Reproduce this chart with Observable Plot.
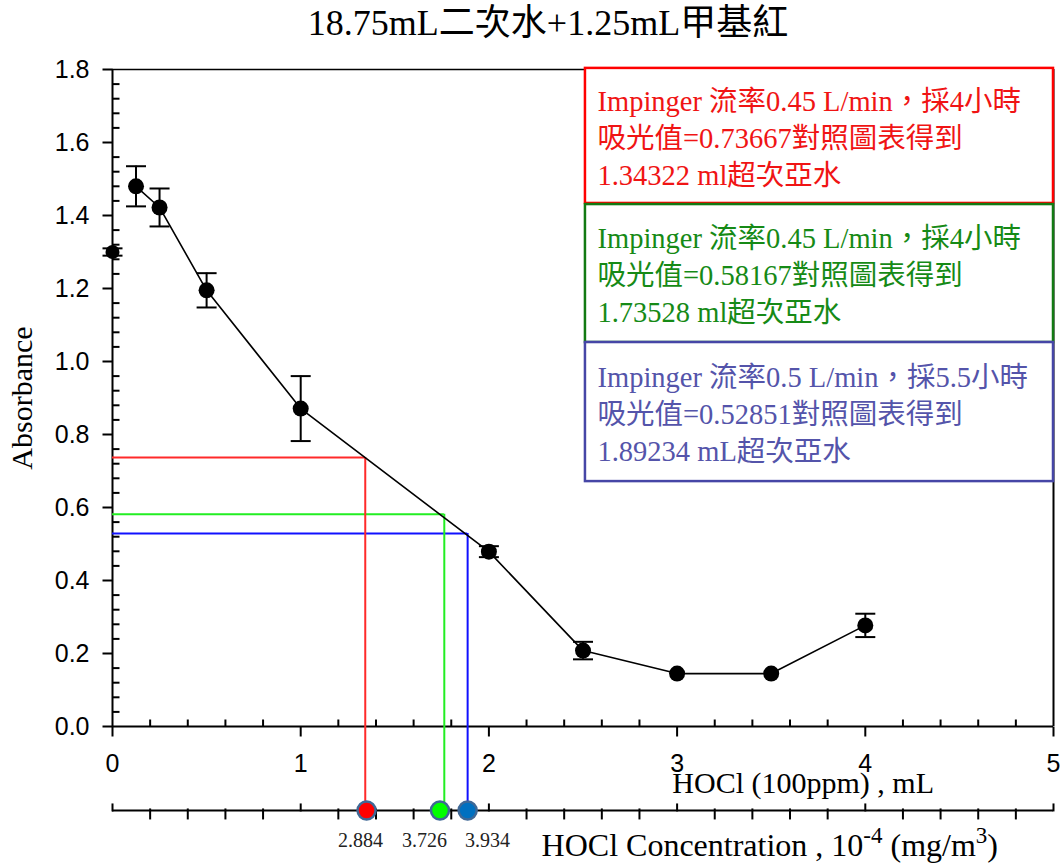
<!DOCTYPE html>
<html>
<head>
<meta charset="utf-8">
<script src="https://cdn.jsdelivr.net/npm/d3@7"></script>
<script src="https://cdn.jsdelivr.net/npm/@observablehq/plot@0.6"></script>
<style>
  body { margin: 0; background: #fff; }
  #title {
    width: 1060px; height: 46px; box-sizing: border-box; padding-left: 36px;
    text-align: center; line-height: 46px; color: #000;
    font-family: "Liberation Serif", "Noto Sans CJK TC", serif; font-size: 36px;
  }
</style>
</head>
<body>
<div id="title"></div>
<div id="chart"></div>
<script>
// ---------- data ----------
const titleText = "18.75mL二次水+1.25mL甲基紅";
const doseML     = [0, 0.125, 0.25, 0.5, 1, 2, 2.5, 3, 3.5, 4];
const absorbance = [1.30, 1.48, 1.422, 1.195, 0.871, 0.479, 0.208, 0.145, 0.145, 0.277];
const absErr     = [0.01, 0.055, 0.052, 0.047, 0.089, 0.015, 0.024, 0, 0, 0.032];

const xTickValues = [0, 1, 2, 3, 4, 5];
const yTickValues = [0, 0.2, 0.4, 0.6, 0.8, 1.0, 1.2, 1.4, 1.6, 1.8];
const yTickLabels = ["0.0", "0.2", "0.4", "0.6", "0.8", "1.0", "1.2", "1.4", "1.6", "1.8"];

const sampleAbs   = [0.73667, 0.58167, 0.52851];   // horizontal guide levels
const sampleML    = [1.343, 1.763, 1.887];         // vertical guide positions (mL)
const sampleDotML = [1.35, 1.74, 1.887];           // markers on concentration axis
const sampleConc  = ["2.884", "3.726", "3.934"];   // concentration labels

const annRed   = ["Impinger 流率0.45 L/min，採4小時", "吸光值=0.73667對照圖表得到", "1.34322 ml超次亞水"];
const annGreen = ["Impinger 流率0.45 L/min，採4小時", "吸光值=0.58167對照圖表得到", "1.73528 ml超次亞水"];
const annBlue  = ["Impinger 流率0.5 L/min，採5.5小時", "吸光值=0.52851對照圖表得到", "1.89234 mL超次亞水"];

const yLabel = "Absorbance";
const xLabel = "HOCl (100ppm) , mL";
const x2LabelParts = [["HOCl Concentration , 10", false], ["-4", true], [" (mg/m", false], ["3", true], [")", false]];

// ---------- build ----------
document.getElementById("title").textContent = titleText;

const pts = doseML.map((x, i) => ({x, y: absorbance[i], e: absErr[i]}));
const guides = sampleAbs.map((a, i) => ({abs: a, ml: sampleML[i], dot: sampleDotML[i], conc: sampleConc[i]}));
const x2Label = x2LabelParts.map(d => d[0]).join("");

const minorX = d3.range(0, 5.0001, 0.2).map(v => +v.toFixed(2)).filter(v => Math.abs(v - Math.round(v)) > 1e-6);
const minorY = d3.range(0, 1.8001, 0.04).map(v => +v.toFixed(2)).filter(v => Math.abs(v / 0.2 - Math.round(v / 0.2)) > 1e-6);

const seg = (x1, y1, x2, y2) => ({draw(ctx) { ctx.moveTo(x1, y1); ctx.lineTo(x2, y2); }});
const tickDownMajor = seg(0, 0, 0, 10);
const tickUpMinor = seg(0, 0, 0, -7);
const tickLeftMajor = seg(0, 0, -10, 0);
const tickRightMinor = seg(0, 0, 7, 0);
const tick2Up = seg(0, 1, 0, -7);
const tick2Down = seg(0, -2, 0, 9);
const capSym = seg(-10, 0, 10, 0);

const LOWER_Y = -0.230;   // concentration axis level (below the plot)
const serif = "Liberation Serif, Noto Sans CJK TC, serif";
const sans = "Liberation Sans, Arial, sans-serif";
const tickStyle = {stroke: "black", fill: "none", strokeWidth: 2};

const guideColors = ["#ff2a2a", "#22ee22", "#1010ff"];
const dotFills = ["#ff0000", "#00ff00", "#0070c0"];
const concLabelX = [1.318, 1.658, 1.993];

const boxes = [
  {lines: annRed,   y1: 1.803, y2: 1.433, stroke: "#ff0000", text: "#f01414"},
  {lines: annGreen, y1: 1.430, y2: 1.052, stroke: "#137a13", text: "#168a16"},
  {lines: annBlue,  y1: 1.052, y2: 0.671, stroke: "#4646a6", text: "#5454aa"}
];

const marks = [
  // frame
  Plot.ruleY([1.8], {stroke: "black", strokeWidth: 1.5}),
  Plot.ruleX([5], {stroke: "black", strokeWidth: 2}),
  Plot.ruleX([0], {stroke: "black", strokeWidth: 2}),
  Plot.ruleY([0], {stroke: "black", strokeWidth: 2}),
  // x ticks
  Plot.dot(xTickValues, {x: d => d, y: 0, symbol: tickDownMajor, ...tickStyle}),
  Plot.dot(minorX, {x: d => d, y: 0, symbol: tickUpMinor, ...tickStyle}),
  Plot.text(xTickValues, {x: d => d, y: 0, dy: 37, text: d => String(d), fontFamily: sans, fontSize: 25, fill: "black"}),
  // y ticks
  Plot.dot(yTickValues, {x: 0, y: d => d, symbol: tickLeftMajor, ...tickStyle}),
  Plot.dot(minorY, {x: 0, y: d => d, symbol: tickRightMinor, ...tickStyle}),
  Plot.text(yTickValues, {x: 0, y: d => d, dx: -23, textAnchor: "end", text: (d, i) => yTickLabels[i], fontFamily: sans, fontSize: 25, fill: "black"}),
  // axis titles
  Plot.text([yLabel], {x: 0, y: 0.90, dx: -90, rotate: -90, text: d => d, fontFamily: serif, fontSize: 30, fill: "black"}),
  Plot.text([xLabel], {x: 3.67, y: 0, dy: 57, text: d => d, fontFamily: serif, fontSize: 30, fill: "black"}),
  // guides
  Plot.ruleY(guides, {y: "abs", x1: 0, x2: "ml", stroke: (d, i) => guideColors[i], strokeWidth: 2}),
  Plot.ruleX(guides, {x: "ml", y1: "abs", y2: LOWER_Y, stroke: (d, i) => guideColors[i], strokeWidth: 2}),
  // secondary (concentration) axis
  Plot.ruleY([LOWER_Y], {x1: 0, x2: 5, stroke: "black", strokeWidth: 2}),
  Plot.dot(xTickValues, {x: d => d, y: LOWER_Y, symbol: tick2Up, ...tickStyle}),
  Plot.dot(minorX, {x: d => d, y: LOWER_Y, symbol: tick2Down, ...tickStyle}),
  Plot.dot(guides, {x: "dot", y: LOWER_Y, r: 9, fill: (d, i) => dotFills[i], stroke: "#3f6896", strokeWidth: 2.5}),
  Plot.text(guides, {x: (d, i) => concLabelX[i], y: LOWER_Y, dy: 30, text: "conc", fontFamily: serif, fontSize: 20, fill: "#222"}),
  Plot.text([x2Label], {x: 2.28, y: LOWER_Y, dy: 35, textAnchor: "start", text: d => d, fontFamily: serif, fontSize: 32, fill: "black"}),
  // data
  Plot.line(pts.slice(1), {x: "x", y: "y", stroke: "black", strokeWidth: 1.6}),
  Plot.ruleX(pts.filter(d => d.e > 0), {x: "x", y1: d => d.y - d.e, y2: d => d.y + d.e, stroke: "black", strokeWidth: 2}),
  Plot.dot(pts.filter(d => d.e > 0), {x: "x", y: d => d.y + d.e, symbol: capSym, ...tickStyle}),
  Plot.dot(pts.filter(d => d.e > 0), {x: "x", y: d => d.y - d.e, symbol: capSym, ...tickStyle}),
  Plot.dot(pts, {x: "x", y: "y", r: (d, i) => i === 0 ? 7 : 8, fill: "black", stroke: "none"})
];

// annotation boxes
for (const b of boxes) {
  marks.push(Plot.rect([b], {x1: 2.513, x2: 5, y1: "y1", y2: "y2", fill: "white", stroke: b.stroke, strokeWidth: 2.5}));
  marks.push(Plot.text([b], {x: 2.577, y: d => (d.y1 + d.y2) / 2, text: d => d.lines.join("\n"), textAnchor: "start",
    lineAnchor: "middle", lineHeight: 1.3, fontFamily: serif, fontSize: 28.5, fill: b.text}));
}

const svg = Plot.plot({
  width: 1060,
  height: 819,
  marginLeft: 112,
  marginRight: 7,
  marginTop: 23,
  marginBottom: 139,
  x: {domain: [0, 5], axis: null},
  y: {domain: [0, 1.8], axis: null},
  r: {type: "identity"},
  style: {fontFamily: sans, background: "white", overflow: "visible"},
  marks
});

// superscripts in the concentration label
d3.select(svg).selectAll("text").filter(function () { return this.textContent === x2Label; }).each(function () {
  const t = d3.select(this);
  t.text(null);
  let up = false;
  for (const [s, sup] of x2LabelParts) {
    const ts = t.append("tspan").text(s);
    if (sup && !up) { ts.attr("dy", -13).attr("font-size", 23); up = true; }
    else if (sup) { ts.attr("font-size", 23); }
    else if (!sup && up) { ts.attr("dy", 13); up = false; }
  }
});

document.getElementById("chart").appendChild(svg);
</script>
</body>
</html>
